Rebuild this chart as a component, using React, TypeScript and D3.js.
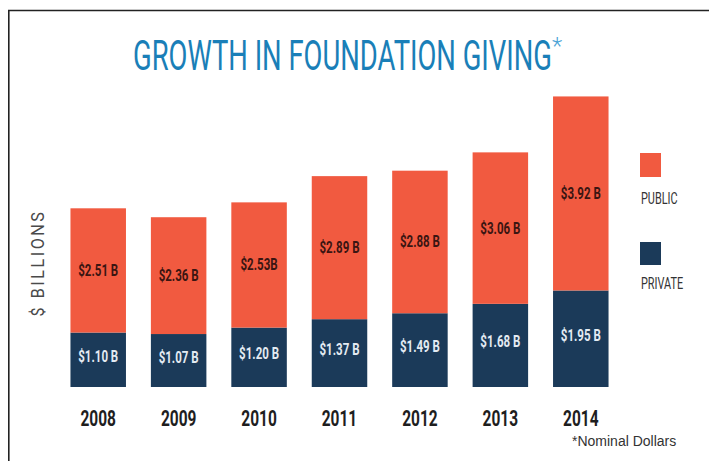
import React from "react";
import * as d3 from "d3";

const years = ["2008", "2009", "2010", "2011", "2012", "2013", "2014"];
const privateValues = [1.1, 1.07, 1.2, 1.37, 1.49, 1.68, 1.95];
const publicValues = [2.51, 2.36, 2.53, 2.89, 2.88, 3.06, 3.92];
const privateLabels = ["$1.10 B", "$1.07 B", "$1.20 B", "$1.37 B", "$1.49 B", "$1.68 B", "$1.95 B"];
const publicLabels = ["$2.51 B", "$2.36 B", "$2.53B", "$2.89 B", "$2.88 B", "$3.06 B", "$3.92 B"];
const seriesKeys = ["private", "public"];
const legendLabels = ["PUBLIC", "PRIVATE"];

const W = 709;
const H = 461;
const ORANGE = "#f15a40";
const NAVY = "#1b3a59";
const TITLE_BLUE = "#1a7fb8";

type Row = { year: string; private: number; public: number };

const rows: Row[] = years.map((y, i) => ({ year: y, private: privateValues[i], public: publicValues[i] }));

const CText = ({ x, y, sx, children, ...rest }: any) => (
  <text transform={`translate(${x},${y}) scale(${sx},1)`} {...rest}>
    {children}
  </text>
);

export default function App() {
  const x = d3.scaleBand<string>().domain(years).range([58, 621]).paddingInner(0.31).paddingOuter(0.155);
  const y = d3.scaleLinear().domain([0, 6]).range([387, 90]);
  const stack = d3.stack<Row>().keys(seriesKeys);
  const series = stack(rows);
  const color: Record<string, string> = { private: NAVY, public: ORANGE };

  return (
    <svg
      width={W}
      height={H}
      style={{ position: "absolute", left: 0, top: 0, background: "#fff" }}
      fontFamily="Roboto, 'DejaVu Sans', sans-serif"
    >
      <rect x={0} y={0} width={W} height={H} fill="#fff" />
      {/* frame */}
      <line x1={8} y1={10.5} x2={W} y2={10.5} stroke="#222" strokeWidth={1.6} />
      <line x1={8.8} y1={10} x2={8.8} y2={H} stroke="#222" strokeWidth={1.6} />

      {/* title */}
      <CText x={133} y={70} sx={0.653} fontSize={42} fill={TITLE_BLUE} fontWeight={400}>
        GROWTH IN FOUNDATION GIVING
      </CText>
      <text x={552} y={54} fontSize={24} fill="#4aa3d6" fontWeight={300}>
        *
      </text>

      {/* y axis label */}
      <text
        transform="translate(44,263) rotate(-90) scale(0.85,1)"
        textAnchor="middle"
        fontSize={19}
        fill="#4a4a4a"
        letterSpacing={3}
      >
        $ BILLIONS
      </text>

      {/* bars */}
      {series.map((s) => (
        <g key={s.key} fill={color[s.key]}>
          {s.map((d, i) => (
            <rect
              key={i}
              x={x(years[i])}
              y={y(d[1])}
              width={x.bandwidth()}
              height={y(d[0]) - y(d[1])}
            />
          ))}
        </g>
      ))}

      {/* value labels */}
      {series.map((s) =>
        s.map((d, i) => {
          const cx = (x(years[i]) as number) + x.bandwidth() / 2;
          const cy = (y(d[0]) + y(d[1])) / 2;
          const isPublic = s.key === "public";
          return (
            <CText
              key={s.key + i}
              x={cx}
              y={cy + (isPublic ? 5.5 : 2)}
              sx={0.72}
              textAnchor="middle"
              fontSize={16}
              fontWeight={700}
              fill={isPublic ? "#3a1512" : "#e3eaf2"}
            >
              {isPublic ? publicLabels[i] : privateLabels[i]}
            </CText>
          );
        })
      )}

      {/* year labels */}
      {years.map((yr) => (
        <CText
          key={yr}
          x={(x(yr) as number) + x.bandwidth() / 2}
          y={426}
          sx={0.72}
          textAnchor="middle"
          fontSize={21.5}
          fontWeight={700}
          fill="#1e1e1e"
        >
          {yr}
        </CText>
      ))}

      {/* legend */}
      <rect x={640} y={153} width={21} height={24} fill={ORANGE} />
      <CText x={641} y={204} sx={0.64} fontSize={17} fill="#333">
        {legendLabels[0]}
      </CText>
      <rect x={640} y={242} width={21} height={23} fill={NAVY} />
      <CText x={641} y={289} sx={0.64} fontSize={17} fill="#333">
        {legendLabels[1]}
      </CText>

      {/* footnote */}
      <text x={572} y={446} fontSize={14} fill="#333" fontFamily="'Liberation Sans', Arial, sans-serif">
        *Nominal Dollars
      </text>
    </svg>
  );
}
